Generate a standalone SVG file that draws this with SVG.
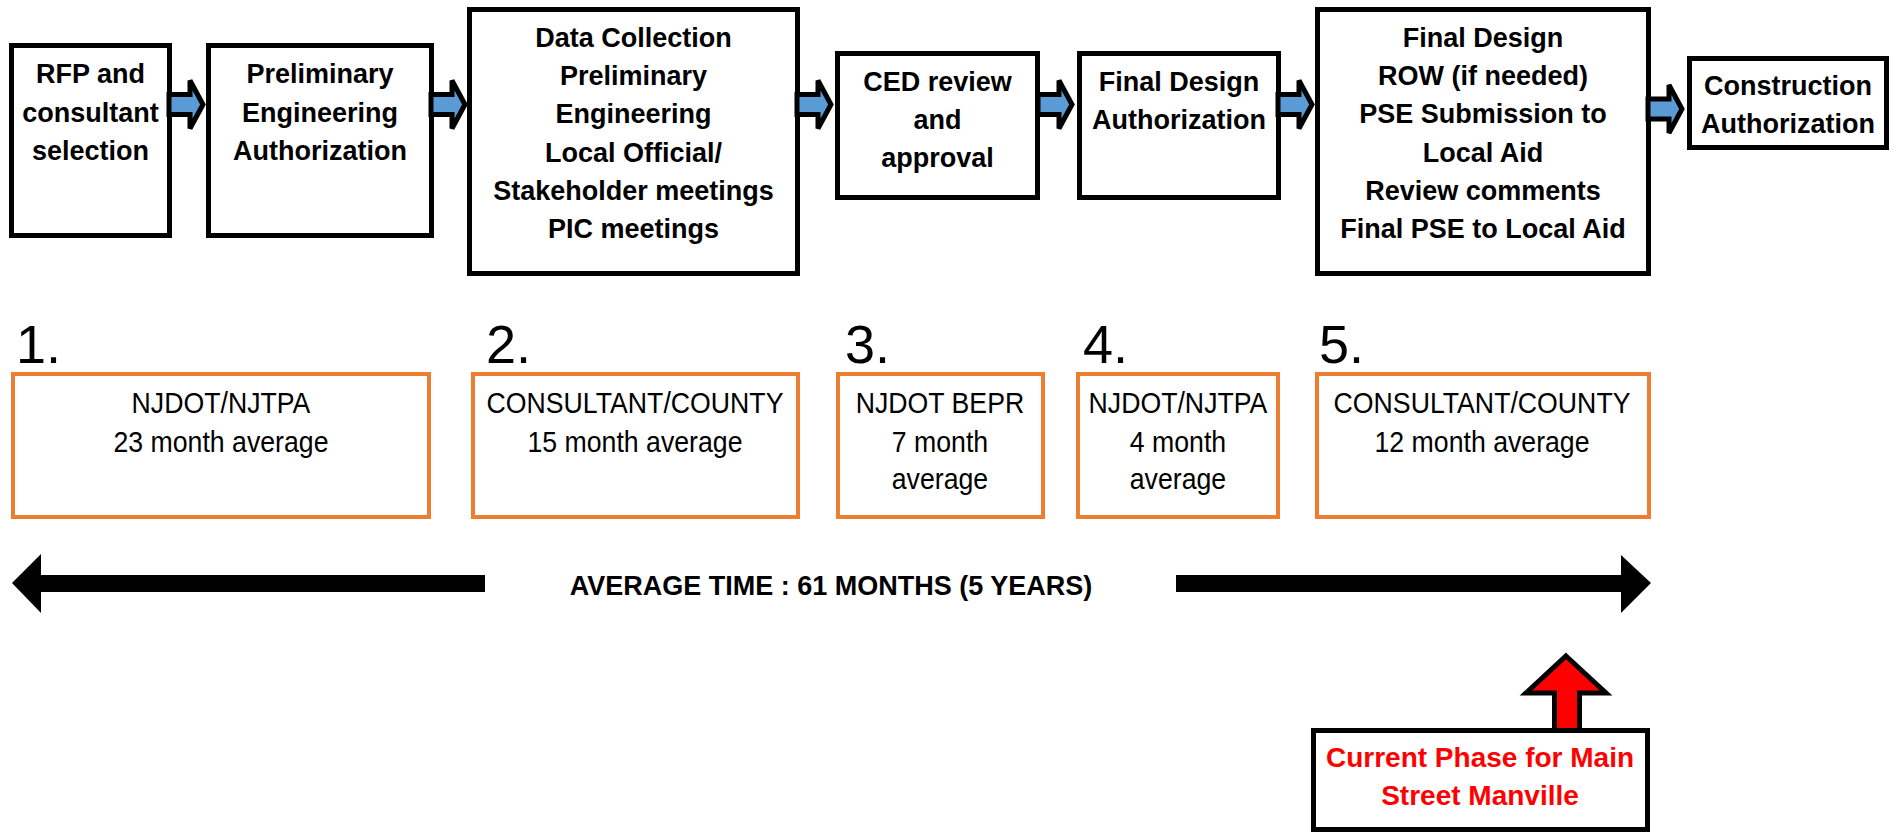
<svg xmlns="http://www.w3.org/2000/svg" width="1900" height="834" viewBox="0 0 1900 834">
<style>
.box{fill:#fff;stroke:#000;stroke-width:5}
.obox{fill:#fff;stroke:#ED7D31;stroke-width:4}
.t{font-family:"Liberation Sans",Arial,sans-serif;font-weight:bold;font-size:27px;fill:#000;text-anchor:middle}
.b{font-family:"Liberation Sans",Arial,sans-serif;font-size:29px;fill:#000;text-anchor:middle}
.num{font-family:"Liberation Sans",Arial,sans-serif;font-size:54px;fill:#000}
.red{font-family:"Liberation Sans",Arial,sans-serif;font-weight:bold;font-size:28px;fill:#FF0000;text-anchor:middle}
.blk{fill:#000}
</style>
<defs>
<path id="barrow" d="M-3,-10 H18 V-24 L31,0 L18,24 V10 H-3 Z" fill="#5B9BD5" stroke="#000" stroke-width="5" stroke-linejoin="miter"/>
</defs>
<rect width="1900" height="834" fill="#fff"/>

<g id="step1">
<rect class="box" x="11.5" y="45.5" width="158" height="190"/>
<text class="t" x="90.5" y="83">RFP and</text>
<text class="t" x="90.5" y="122">consultant</text>
<text class="t" x="90.5" y="160">selection</text>
</g>
<g id="step2">
<rect class="box" x="208.5" y="45.5" width="223" height="190"/>
<text class="t" x="320" y="83">Preliminary</text>
<text class="t" x="320" y="122">Engineering</text>
<text class="t" x="320" y="160">Authorization</text>
</g>
<g id="step3">
<rect class="box" x="469.5" y="9.5" width="328" height="264"/>
<text class="t" x="633.5" y="47">Data Collection</text>
<text class="t" x="633.5" y="85">Preliminary</text>
<text class="t" x="633.5" y="123">Engineering</text>
<text class="t" x="633.5" y="162">Local Official/</text>
<text class="t" x="633.5" y="200">Stakeholder meetings</text>
<text class="t" x="633.5" y="238">PIC meetings</text>
</g>
<g id="step4">
<rect class="box" x="837.5" y="53.5" width="200" height="144"/>
<text class="t" x="937.5" y="91">CED review</text>
<text class="t" x="937.5" y="129">and</text>
<text class="t" x="937.5" y="167">approval</text>
</g>
<g id="step5">
<rect class="box" x="1079.5" y="53.5" width="199" height="144"/>
<text class="t" x="1179" y="91">Final Design</text>
<text class="t" x="1179" y="129">Authorization</text>
</g>
<g id="step6">
<rect class="box" x="1317.5" y="9.5" width="331" height="264"/>
<text class="t" x="1483" y="47">Final Design</text>
<text class="t" x="1483" y="85">ROW (if needed)</text>
<text class="t" x="1483" y="123">PSE Submission to</text>
<text class="t" x="1483" y="162">Local Aid</text>
<text class="t" x="1483" y="200">Review comments</text>
<text class="t" x="1483" y="238">Final PSE to Local Aid</text>
</g>
<g id="step7">
<rect class="box" x="1689.5" y="58.5" width="197" height="89"/>
<text class="t" x="1788" y="95">Construction</text>
<text class="t" x="1788" y="133">Authorization</text>
</g>

<g id="phase1">
<text class="num" x="16" y="363">1.</text>
<rect class="obox" x="13" y="374" width="416" height="143"/>
<g transform="scale(0.92 1)">
<text class="b" x="240.2" y="413">NJDOT/NJTPA</text>
<text class="b" x="240.2" y="452">23 month average</text>
</g>
</g>
<g id="phase2">
<text class="num" x="486" y="363">2.</text>
<rect class="obox" x="473" y="374" width="325" height="143"/>
<g transform="scale(0.92 1)">
<text class="b" x="690.2" y="413">CONSULTANT/COUNTY</text>
<text class="b" x="690.2" y="452">15 month average</text>
</g>
</g>
<g id="phase3">
<text class="num" x="845" y="363">3.</text>
<rect class="obox" x="838" y="374" width="205" height="143"/>
<g transform="scale(0.92 1)">
<text class="b" x="1021.7" y="413">NJDOT BEPR</text>
<text class="b" x="1021.7" y="452">7 month</text>
<text class="b" x="1021.7" y="489">average</text>
</g>
</g>
<g id="phase4">
<text class="num" x="1083" y="363">4.</text>
<rect class="obox" x="1078" y="374" width="200" height="143"/>
<g transform="scale(0.92 1)">
<text class="b" x="1280.4" y="413">NJDOT/NJTPA</text>
<text class="b" x="1280.4" y="452">4 month</text>
<text class="b" x="1280.4" y="489">average</text>
</g>
</g>
<g id="phase5">
<text class="num" x="1319" y="363">5.</text>
<rect class="obox" x="1317" y="374" width="332" height="143"/>
<g transform="scale(0.92 1)">
<text class="b" x="1610.9" y="413">CONSULTANT/COUNTY</text>
<text class="b" x="1610.9" y="452">12 month average</text>
</g>
</g>

<g id="timeline">
<polygon class="blk" points="12,583 41,554 41,575 485,575 485,592 41,592 41,613"/>
<polygon class="blk" points="1651,583 1621,555 1621,575 1176,575 1176,592 1621,592 1621,613"/>
<text class="t" x="831" y="595">AVERAGE TIME : 61 MONTHS (5 YEARS)</text>
</g>

<g id="connectors">
<use href="#barrow" x="172" y="104.5"/>
<use href="#barrow" x="434" y="104.5"/>
<use href="#barrow" x="800" y="104.5"/>
<use href="#barrow" x="1041" y="104.5"/>
<use href="#barrow" x="1281" y="104.5"/>
<use href="#barrow" x="1651" y="109"/>
<polygon points="1566,656 1606,693 1579.5,693 1579.5,731 1554.5,731 1554.5,693 1526,693" fill="#FF0000" stroke="#000" stroke-width="5"/>
</g>

<g id="current">
<rect class="box" x="1313.5" y="730.5" width="334" height="99"/>
<text class="red" x="1480" y="767">Current Phase for Main</text>
<text class="red" x="1480" y="805">Street Manville</text>
</g>
</svg>
